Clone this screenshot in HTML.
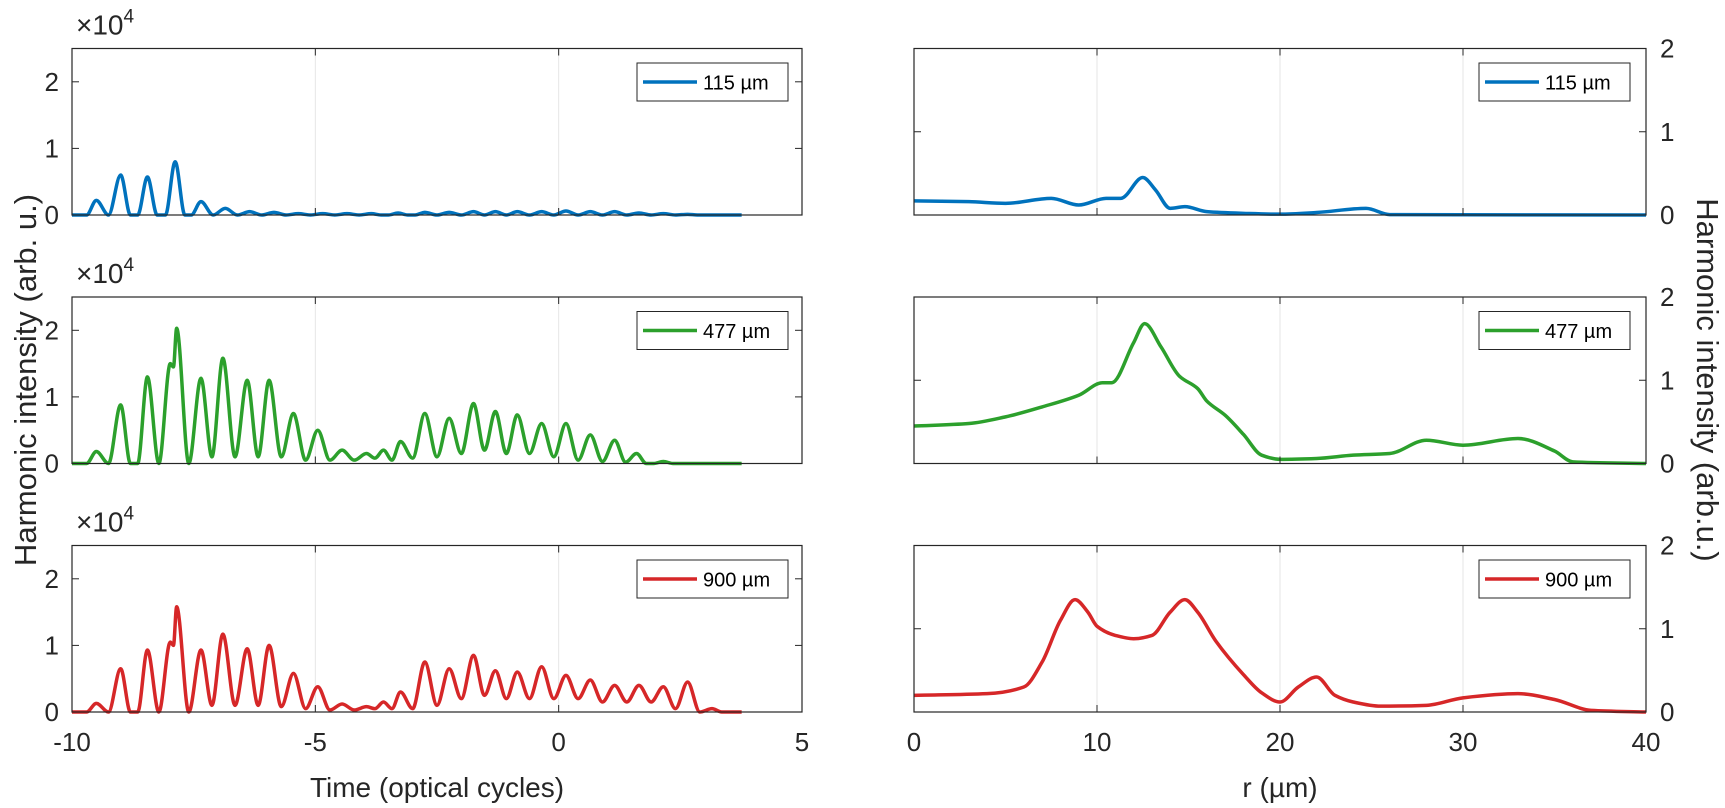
<!DOCTYPE html>
<html><head><meta charset="utf-8"><style>
html,body{margin:0;padding:0;background:#fff;}
svg{display:block;font-family:"Liberation Sans",sans-serif;}
</style></head><body>
<svg id="chart" width="1725" height="808" viewBox="0 0 1725 808" xmlns="http://www.w3.org/2000/svg"></svg>
<script>
// ---- data ----
const leftXTicks = [-10, -5, 0, 5];
const leftYTicks = [0, 1, 2];
const rightXTicks = [0, 10, 20, 30, 40];
const rightYTicks = [0, 1, 2];
const seriesLabels = ["115 µm", "477 µm", "900 µm"];
const seriesColors = ["#0072BD", "#2ca02c", "#d62728"];

// peak times, peak heights, and valley level preceding each peak
const bluePeakT = [-9.5,-9.0,-8.45,-7.88,-7.35,-6.85,-6.35,-5.85,-5.35,-4.85,-4.35,-3.85,-3.3,-2.75,-2.25,-1.75,-1.3,-0.85,-0.35,0.15,0.65,1.15,1.65,2.15,2.65];
const bluePeakH = [0.22,0.6,0.57,0.8,0.2,0.1,0.05,0.04,0.02,0.02,0.02,0.02,0.03,0.04,0.04,0.05,0.05,0.05,0.05,0.06,0.05,0.05,0.03,0.02,0.01];
const blueBase  = [0,0,0,0,0,0,0,0,0,0,0,0,0,0,0,0,0,0,0,0,0,0,0,0,0];

const greenPeakT = [-9.5,-9.0,-8.45,-7.98,-7.85,-7.35,-6.9,-6.4,-5.95,-5.45,-4.95,-4.45,-3.95,-3.6,-3.25,-2.75,-2.25,-1.75,-1.3,-0.85,-0.35,0.15,0.65,1.15,1.6,2.15];
const greenPeakH = [0.18,0.88,1.3,1.5,2.03,1.28,1.58,1.25,1.25,0.75,0.5,0.2,0.15,0.2,0.33,0.75,0.68,0.9,0.78,0.73,0.6,0.6,0.43,0.35,0.15,0.03];
const greenBase  = [0,0,0,0,1.45,0,0.1,0.1,0.1,0.1,0.05,0.05,0.05,0.08,0.05,0.08,0.1,0.15,0.2,0.15,0.15,0.1,0.05,0.03,0.02,0];

const redPeakT = [-9.5,-9.0,-8.45,-7.98,-7.85,-7.35,-6.9,-6.4,-5.95,-5.45,-4.95,-4.45,-3.95,-3.6,-3.25,-2.75,-2.25,-1.75,-1.3,-0.85,-0.35,0.15,0.65,1.15,1.65,2.15,2.65,3.15];
const redPeakH = [0.13,0.65,0.93,1.05,1.58,0.93,1.17,0.95,1.0,0.58,0.38,0.12,0.08,0.15,0.3,0.75,0.65,0.85,0.62,0.6,0.68,0.55,0.48,0.4,0.4,0.38,0.45,0.05];
const redBase  = [0,0,0,0,1.0,0,0.1,0.1,0.1,0.08,0.05,0.03,0.03,0.05,0.05,0.05,0.1,0.2,0.25,0.2,0.2,0.2,0.2,0.15,0.15,0.15,0.05,0];

const blueR = [0,3,5,7.5,9,10.5,11.3,12.5,13.2,14,14.8,16,18,20,22,24.7,26,40];
const blueI = [0.17,0.16,0.14,0.2,0.12,0.2,0.2,0.45,0.3,0.08,0.1,0.04,0.02,0.01,0.03,0.08,0.005,0];
const greenR = [0,3,5,7,9,10.3,10.8,12,12.6,13.5,14.5,15.5,16,17,18,19,20,22,24,26,28,30,33,35,36,40];
const greenI = [0.45,0.48,0.56,0.68,0.82,0.97,0.97,1.45,1.68,1.4,1.05,0.9,0.75,0.58,0.35,0.1,0.05,0.06,0.1,0.12,0.28,0.22,0.3,0.15,0.02,0];
const redR = [0,4,6,7,8,8.8,9.5,10,11,12,13,14,14.8,15.5,16.5,18,19,20,21,22,23,24,25.5,28,30,33,35,37,40];
const redI = [0.2,0.22,0.3,0.6,1.1,1.35,1.2,1.03,0.92,0.88,0.92,1.2,1.35,1.2,0.85,0.45,0.23,0.12,0.3,0.42,0.2,0.12,0.07,0.08,0.17,0.22,0.15,0.02,0];

const timePeaks = [[bluePeakT,bluePeakH,blueBase],[greenPeakT,greenPeakH,greenBase],[redPeakT,redPeakH,redBase]];
const radial = [[blueR,blueI],[greenR,greenI],[redR,redI]];

// ---- layout ----
const svg = document.getElementById('chart');
const NS = "http://www.w3.org/2000/svg";
const L = {x0:72, x1:802, xmin:-10, xmax:5};
const R = {x0:914, x1:1646, xmin:0, xmax:40};
const rowTop = [48.5, 297, 545.5];
const PH = 166.5;
function mk(tag, attrs, parent){const e=document.createElementNS(NS,tag);for(const k in attrs)e.setAttribute(k,attrs[k]);(parent||svg).appendChild(e);return e;}
function monotonePath(pts){
  const n=pts.length; if(n<2) return '';
  const dx=[],m=[],t=[];
  for(let i=0;i<n-1;i++){dx.push(pts[i+1][0]-pts[i][0]);m.push((pts[i+1][1]-pts[i][1])/(dx[i]||1e-9));}
  t[0]=m[0];t[n-1]=m[n-2];
  for(let i=1;i<n-1;i++){ if(m[i-1]*m[i]<=0) t[i]=0; else t[i]=3*(dx[i-1]+dx[i])/((2*dx[i]+dx[i-1])/m[i-1]+(dx[i]+2*dx[i-1])/m[i]); }
  let d='M'+pts[0][0].toFixed(2)+','+pts[0][1].toFixed(2);
  for(let i=0;i<n-1;i++){const h=dx[i];
    d+=' C'+(pts[i][0]+h/3).toFixed(2)+','+(pts[i][1]+t[i]*h/3).toFixed(2)+' '+(pts[i+1][0]-h/3).toFixed(2)+','+(pts[i+1][1]-t[i+1]*h/3).toFixed(2)+' '+pts[i+1][0].toFixed(2)+','+pts[i+1][1].toFixed(2);}
  return d;
}

for(let r=0;r<3;r++){
  const top=rowTop[r], bot=top+PH;
  // ---------- left panel ----------
  const lx=v=>L.x0+(v-L.xmin)/(L.xmax-L.xmin)*(L.x1-L.x0);
  const ly=v=>bot-v/2.5*PH;
  const gL=mk('g',{});
  
  
  leftXTicks.forEach(t=>{ if(t>L.xmin&&t<L.xmax){const g=mk('line',{x1:lx(t),x2:lx(t),y1:top,y2:bot,stroke:'#e6e6e6','stroke-width':1},gL);}});
  // series: peaks with valleys between them
  const [pt,ph,pb]=timePeaks[r];
  const pts=[[L.xmin,0]];
  const HW=0.2;
  for(let i=0;i<pt.length;i++){
    const prev = i>0 ? pt[i-1] : L.xmin;
    const gap = pt[i]-prev;
    if(i===0 || gap>2*HW+0.1){
      pts.push([pt[i]-HW, pb[i]]);
    } else {
      pts.push([(prev+pt[i])/2, pb[i]]);
    }
    pts.push([pt[i],ph[i]]);
    const nxt = i<pt.length-1 ? pt[i+1] : pt[i]+1;
    if(i===pt.length-1 || nxt-pt[i]>2*HW+0.1){
      pts.push([pt[i]+HW, i<pt.length-1 ? pb[i+1] : 0]);
    }
  }
  pts.push([3.76,0]);
  pts.sort((a,b)=>a[0]-b[0]);
  const cl=[];pts.forEach(p=>{if(!cl.length||p[0]-cl[cl.length-1][0]>1e-4)cl.push(p);});
  const pl=mk('path',{d:monotonePath(cl.map(p=>[lx(p[0]),ly(p[1])])),fill:'none',stroke:seriesColors[r],'stroke-width':3.5,'stroke-linejoin':'round'},gL);
  
  
  const fr=mk('rect',{x:L.x0,y:top,width:L.x1-L.x0,height:PH,fill:'none',stroke:'#262626','stroke-width':1.2},gL);
  
  
  leftYTicks.forEach(t=>{
    mk('line',{x1:L.x0,x2:L.x0+7,y1:ly(t),y2:ly(t),stroke:'#262626','stroke-width':1},gL);
    mk('line',{x1:L.x1,x2:L.x1-7,y1:ly(t),y2:ly(t),stroke:'#262626','stroke-width':1},gL);
    const tx=mk('text',{x:L.x0-13,y:ly(t)+9,'font-size':26,'text-anchor':'end',fill:'#262626'},gL);
    tx.textContent=t;
    
    
  });
  leftXTicks.forEach(t=>{
    mk('line',{x1:lx(t),x2:lx(t),y1:bot,y2:bot-7,stroke:'#262626','stroke-width':1},gL);
    mk('line',{x1:lx(t),x2:lx(t),y1:top,y2:top+7,stroke:'#262626','stroke-width':1},gL);
    if(r===2){const tx=mk('text',{x:lx(t),y:bot+39,'font-size':26,'text-anchor':'middle',fill:'#262626'},gL);tx.textContent=t;
      
      }
  });
  const ex=mk('text',{x:76,y:top-14,'font-size':28,fill:'#262626'},gL);
  ex.innerHTML='×10<tspan dy="-12" font-size="19">4</tspan>';
  
  
  // legend
  const lg=mk('g',{},gL);
  
  
  mk('rect',{x:637,y:top+14.5,width:151,height:38,fill:'#fff',stroke:'#262626','stroke-width':1},lg);
  mk('line',{x1:643,x2:697,y1:top+33.5,y2:top+33.5,stroke:seriesColors[r],'stroke-width':3.5},lg);
  const lt=mk('text',{x:703,y:top+41,'font-size':20,fill:'#000'},lg);lt.textContent=seriesLabels[r];

  // ---------- right panel ----------
  const rx=v=>R.x0+(v-R.xmin)/(R.xmax-R.xmin)*(R.x1-R.x0);
  const ry=v=>bot-v/2*PH;
  const gR=mk('g',{});
  
  
  rightXTicks.forEach(t=>{ if(t>R.xmin&&t<R.xmax){const g=mk('line',{x1:rx(t),x2:rx(t),y1:top,y2:bot,stroke:'#e6e6e6','stroke-width':1},gR);}});
  const [rr,ri]=radial[r];
  const rp=mk('path',{d:monotonePath(rr.map((v,i)=>[rx(v),ry(ri[i])])),fill:'none',stroke:seriesColors[r],'stroke-width':3.5,'stroke-linejoin':'round'},gR);
  
  
  const fr2=mk('rect',{x:R.x0,y:top,width:R.x1-R.x0,height:PH,fill:'none',stroke:'#262626','stroke-width':1.2},gR);
  
  
  rightYTicks.forEach(t=>{
    mk('line',{x1:R.x1,x2:R.x1-7,y1:ry(t),y2:ry(t),stroke:'#262626','stroke-width':1},gR);
    mk('line',{x1:R.x0,x2:R.x0+7,y1:ry(t),y2:ry(t),stroke:'#262626','stroke-width':1},gR);
    const tx=mk('text',{x:R.x1+14,y:ry(t)+9,'font-size':26,fill:'#262626'},gR);tx.textContent=t;
    
    
  });
  rightXTicks.forEach(t=>{
    mk('line',{x1:rx(t),x2:rx(t),y1:bot,y2:bot-7,stroke:'#262626','stroke-width':1},gR);
    mk('line',{x1:rx(t),x2:rx(t),y1:top,y2:top+7,stroke:'#262626','stroke-width':1},gR);
    if(r===2){const tx=mk('text',{x:rx(t),y:bot+39,'font-size':26,'text-anchor':'middle',fill:'#262626'},gR);tx.textContent=t;
      
      }
  });
  const lg2=mk('g',{},gR);
  
  
  mk('rect',{x:1479,y:top+14.5,width:151,height:38,fill:'#fff',stroke:'#262626','stroke-width':1},lg2);
  mk('line',{x1:1485,x2:1539,y1:top+33.5,y2:top+33.5,stroke:seriesColors[r],'stroke-width':3.5},lg2);
  const lt2=mk('text',{x:1545,y:top+41,'font-size':20,fill:'#000'},lg2);lt2.textContent=seriesLabels[r];
}
// axis titles
const yl=mk('text',{x:0,y:0,'font-size':31,'text-anchor':'middle',fill:'#262626',transform:'translate(36,380) rotate(-90)'});
yl.textContent='Harmonic intensity (arb. u.)';


const yr=mk('text',{x:0,y:0,'font-size':31,'text-anchor':'middle',fill:'#262626',transform:'translate(1697,380) rotate(90)'});
yr.textContent='Harmonic intensity (arb.u.)';


const xl=mk('text',{x:437,y:797,'font-size':28,'text-anchor':'middle',fill:'#262626'});
xl.textContent='Time (optical cycles)';


const xr=mk('text',{x:1280,y:797,'font-size':28,'text-anchor':'middle',fill:'#262626'});
xr.textContent='r (µm)';


</script>
</body></html>
